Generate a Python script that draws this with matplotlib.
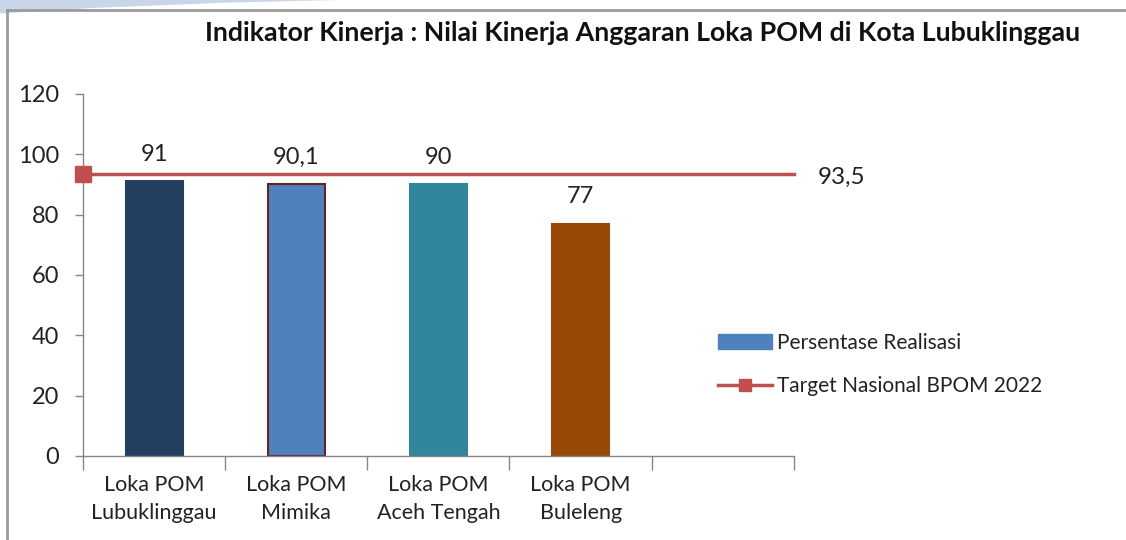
import matplotlib
matplotlib.use("Agg")
import matplotlib.pyplot as plt
from matplotlib.patches import Patch, Polygon
from matplotlib.lines import Line2D

categories = ["Loka POM\nLubuklinggau", "Loka POM\nMimika", "Loka POM\nAceh Tengah", "Loka POM\nBuleleng", ""]
realisasi = [91, 90.1, 90, 77]
realisasi_labels = ["91", "90,1", "90", "77"]
target = 93.5
target_label = "93,5"
yticks = [0, 20, 40, 60, 80, 100, 120]

bar_colors = ["#243F60", "#4F81BD", "#31859C", "#984807"]
edge_colors = ["#243F60", "#632523", "#31859C", "#984807"]

plt.rcParams['font.family'] = ['Lato', 'DejaVu Sans']

fig = plt.figure(figsize=(11.26, 5.4), dpi=100)
fig.patch.set_facecolor("white")

# decorative frame and swoosh
fig.add_artist(Polygon([[0, 1], [0.0, 0.975], [0.08, 0.985], [0.2, 0.995], [0.3, 1]],
                       closed=True, transform=fig.transFigure, facecolor="#C9D6EA", edgecolor="none"))
fig.add_artist(Line2D([0.0062, 0.0062], [0, 0.981], transform=fig.transFigure, color="#9A9A9A", lw=2))
fig.add_artist(Line2D([0.0062, 1.0], [0.981, 0.981], transform=fig.transFigure, color="#9A9A9A", lw=2))

ax = fig.add_axes([0.0737, 0.1556, 0.705 - 0.0737, 0.826 - 0.1556])
for i, v in enumerate(realisasi):
    ax.bar(i, v, width=0.4, color=bar_colors[i], edgecolor=edge_colors[i], linewidth=1.5, zorder=2)
    ax.text(i, v + 5.5, realisasi_labels[i], ha="center", va="bottom", fontsize=17, color="#222222")

ax.plot([-0.5, len(categories) - 0.5], [target, target], color="#C0504D", lw=2.5, zorder=3, clip_on=False)
ax.plot([-0.5], [target], marker="s", ms=11, color="#C0504D", zorder=4, clip_on=False)
ax.text(len(categories) - 0.5 + 0.17, target - 1, target_label, ha="left", va="center", fontsize=17.5, color="#222222")

ax.set_xlim(-0.5, len(categories) - 0.5)
ax.set_ylim(0, 120)
ax.set_yticks(yticks)
ax.set_yticklabels([str(t) for t in yticks], fontsize=17, color="#222222")
ax.set_xticks([i - 0.5 for i in range(len(categories) + 1)])
ax.set_xticklabels([])
ax.set_xticks(range(len(categories)), minor=True)
ax.set_xticklabels(categories, minor=True, fontsize=15.5, color="#222222", linespacing=1.5)
ax.tick_params(axis="x", which="major", length=10, color="#868686", width=1)
ax.tick_params(axis="x", which="minor", length=0, pad=14)
ax.tick_params(axis="y", length=6, color="#868686", width=1, pad=11)

for s in ["top", "right"]:
    ax.spines[s].set_visible(False)
for s in ["left", "bottom"]:
    ax.spines[s].set_color("#868686")
    ax.spines[s].set_linewidth(1)

fig.text(0.5706, 0.938, "Indikator Kinerja : Nilai Kinerja Anggaran Loka POM di Kota Lubuklinggau",
         ha="center", va="center", fontsize=19.3, fontweight="bold", color="#111111")

handles = [Patch(facecolor="#4F81BD", edgecolor="#4F81BD"),
           Line2D([0], [0], color="#C0504D", lw=2.5, marker="s", ms=9)]
fig.legend(handles, ["Persentase Realisasi", "Target Nasional BPOM 2022"],
           loc="center left", bbox_to_anchor=(0.621, 0.325), frameon=False, fontsize=15,
           handlelength=2.6, handletextpad=0.25, labelspacing=1.15, labelcolor="#222222")

fig.savefig("out.png", dpi=100)
